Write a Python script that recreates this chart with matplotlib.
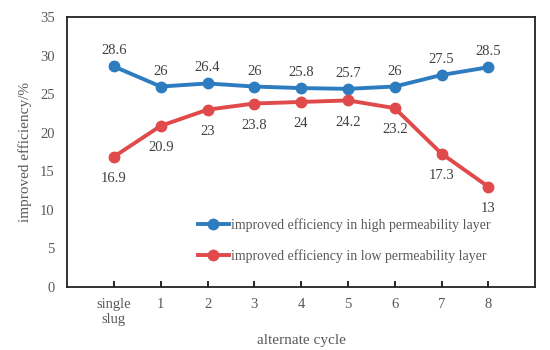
import matplotlib.pyplot as plt

plt.rcParams["font.family"] = ["Liberation Serif", "DejaVu Serif"]

# ------------------------------------------------------------
# Data
# ------------------------------------------------------------
cycles = ["single\nslug", "1", "2", "3", "4", "5", "6", "7", "8"]
high_perm = [28.6, 26, 26.4, 26, 25.8, 25.7, 26, 27.5, 28.5]
low_perm = [16.9, 20.9, 23, 23.8, 24, 24.2, 23.2, 17.3, 13]

blue = "#2E7CC0"
red = "#E04A4A"
grey = "#595959"

# ------------------------------------------------------------
# Plot
# ------------------------------------------------------------
fig = plt.figure(figsize=(5.5, 3.5), dpi=100)
ax = fig.add_axes([0.122, 0.18, 0.851, 0.771])

x = list(range(len(cycles)))
ax.plot(x, high_perm, color=blue, lw=2.8, marker="o", ms=7.5,
        label="improved efficiency in high permeability layer")
ax.plot(x, low_perm, color=red, lw=2.8, marker="o", ms=7.5,
        label="improved efficiency in low permeability layer")

for xi, v in zip(x, high_perm):
    ax.annotate(f"{v:g}", (xi, v), xytext=(0, 6.5), textcoords="offset points",
                ha="center", va="bottom", fontsize=10.5, color="#404040")
for xi, v in zip(x, low_perm):
    ax.annotate(f"{v:g}", (xi, v), xytext=(0, -11), textcoords="offset points",
                ha="center", va="top", fontsize=10.5, color="#404040")

ax.set_xlim(-1, 9)
ax.set_ylim(0, 35)
ax.set_yticks(range(0, 36, 5))
ax.set_xticks(x)
ax.set_xticklabels(cycles)
ax.tick_params(axis="x", direction="in", length=4, width=1.2, colors="black",
               labelcolor=grey, labelsize=10.5, pad=8)
ax.tick_params(axis="y", length=0, labelsize=10.5, labelcolor=grey, pad=9)
for s in ax.spines.values():
    s.set_linewidth(1.3)
    s.set_color("#222222")

ax.set_xlabel("alternate cycle", fontsize=11, color=grey, labelpad=6)
ax.set_ylabel("improved efficiency/%", fontsize=11, color=grey, labelpad=6)

ax.legend(loc="upper left", bbox_to_anchor=(0.253, 0.303), frameon=False,
          fontsize=10, labelcolor=grey, handlelength=2.2, handletextpad=0.2,
          labelspacing=1.25)

fig.savefig("out.png", dpi=100)
